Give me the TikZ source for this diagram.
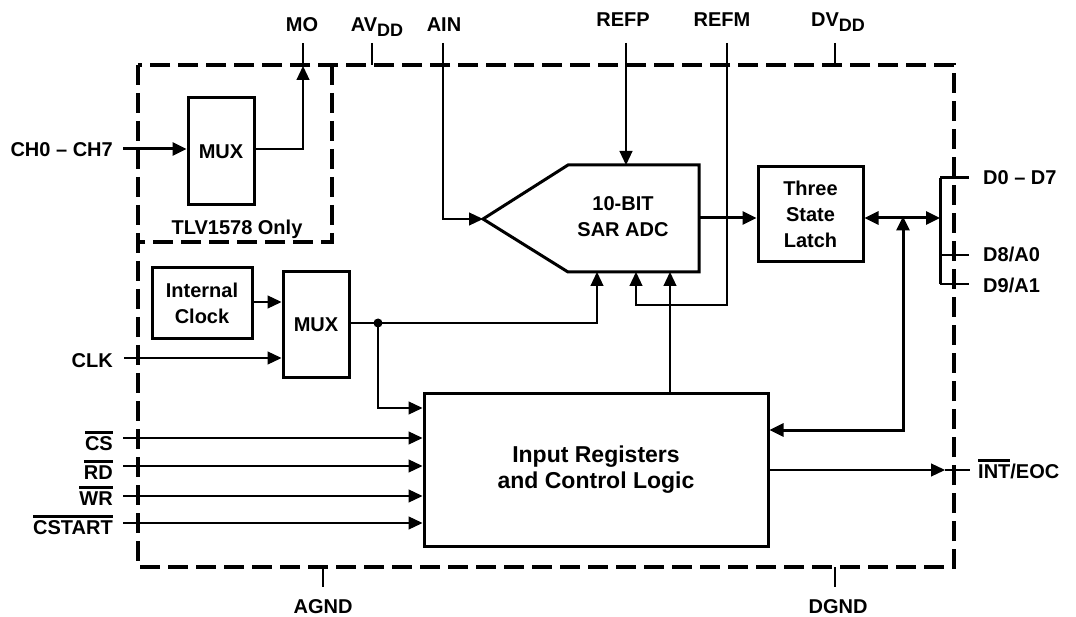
\documentclass[tikz,border=0pt]{standalone}
\usepackage{fontspec}
\setmainfont{Liberation Sans}
\usetikzlibrary{arrows.meta}
\newcommand\ovl[1]{\setbox0\hbox{#1}\rlap{\rule[\dimexpr\ht0+2.5pt\relax]{\wd0}{2.4pt}}\box0}
\newcommand\lowsub[1]{\raisebox{-5pt}{\fontsize{18}{18}\selectfont #1}}
\tikzset{
  x=1pt, y=-1pt,
  every node/.style={font=\fontsize{20}{26}\selectfont\bfseries, inner sep=0pt, text=black},
  blk/.style={draw, line width=3pt, align=center},
  thin/.style={line width=1.2pt},
  bus/.style={line width=3pt},
  dsh/.style={line width=3.2pt, dash pattern=on 20pt off 8pt},
  arr/.style={-{Triangle[length=14pt,width=13pt]}},
  darr/.style={{Triangle[length=14pt,width=13pt]}-{Triangle[length=14pt,width=13pt]}},
  lbl/.style={anchor=base east},
  rlbl/.style={anchor=base west},
  tlbl/.style={anchor=base}
}
\begin{document}
\begin{tikzpicture}
\useasboundingbox (0,0) rectangle (1076,617);
% dashed outlines
\draw[dsh] (138,65) rectangle (954,567);
\draw[dsh] (332,65) -- (332,242) -- (138,242);

% blocks
\node[blk, minimum width=66pt, minimum height=107pt] (mux1) at (221,151.5) {MUX};
\node[tlbl] (tlv) at (237,235) {TLV1578 Only};
\node[blk, minimum width=100pt, minimum height=71pt] (iclk) at (202,303.5) {Internal\\Clock};
\node[blk, minimum width=66pt, minimum height=106pt] (mux2) at (316,325) {MUX};
\node[blk, minimum width=105pt, minimum height=95pt] (latch) at (810.5,214.5) {Three\\State\\Latch};
\node[blk, minimum width=344pt, minimum height=153pt, font=\fontsize{23}{26}\selectfont\bfseries] (ctrl) at (596,470) {Input Registers\\and Control Logic};

% ADC shape
\coordinate (adcL) at (483,219);
\coordinate (adcTL) at (568,165);
\coordinate (adcTR) at (699,165);
\coordinate (adcBR) at (699,272);
\coordinate (adcBL) at (568,272);
\draw[line width=3pt, line join=miter] (adcL) -- (adcTL) -- (adcTR) -- (adcBR) -- (adcBL) -- cycle;
\node[align=center] (adc) at (623,217) {10-BIT\\SAR ADC};

% top labels
\node[tlbl] (mo) at (302,32) {MO};
\node[tlbl] (avdd) at (377,32) {AV\lowsub{DD}};
\node[tlbl] (ain) at (444,32) {AIN};
\node[tlbl] (refp) at (623,27) {REFP};
\node[tlbl] (refm) at (722,27) {REFM};
\node[tlbl] (dvdd) at (838,27) {DV\lowsub{DD}};

% left labels
\node[lbl] (ch) at (113,157) {CH0 -- CH7};
\node[lbl] (clk) at (113,368) {CLK};
\node[lbl] (cs) at (113,450) {\ovl{CS}};
\node[lbl] (rd) at (113,479) {\ovl{RD}};
\node[lbl] (wr) at (113,505) {\ovl{WR}};
\node[lbl] (cstart) at (113,534) {\ovl{CSTART}};

% right labels
\node[rlbl] (d07) at (983,185) {D0 -- D7};
\node[rlbl] (d8) at (983,262) {D8/A0};
\node[rlbl] (d9) at (983,293) {D9/A1};
\node[rlbl] (int) at (978,478) {\ovl{INT}/EOC};

% bottom labels
\node[tlbl] (agnd) at (323,613) {AGND};
\node[tlbl] (dgnd) at (838,613) {DGND};

% coordinates
\coordinate (chS) at (123,149);
\coordinate (moC) at (303,149);
\coordinate (moB) at (303,66);
\coordinate (moT) at (303,43);
\coordinate (avT) at (372,43);
\coordinate (avB) at (372,65);
\coordinate (ainT) at (443,43);
\coordinate (ainC) at (443,219);
\coordinate (refpT) at (626,43);
\coordinate (refpB) at (626,165);
\coordinate (refmT) at (727,43);
\coordinate (refmC1) at (727,305);
\coordinate (refmC2) at (636,305);
\coordinate (refmB) at (636,272);
\coordinate (dvT) at (835,43);
\coordinate (dvB) at (835,65);
\coordinate (dot) at (378,323);
\coordinate (clkC) at (597,323);
\coordinate (clkB) at (597,272);
\coordinate (dotD) at (378,408);
\coordinate (ctlT) at (670,272);
\coordinate (clkS) at (124,358);
\coordinate (csS) at (123,438);
\coordinate (rdS) at (123,466);
\coordinate (wrS) at (123,496);
\coordinate (cstS) at (123,523);
\coordinate (busT) at (903,218);
\coordinate (busC) at (903,430);
\coordinate (barL) at (940,218);
\coordinate (barT) at (940,178);
\coordinate (barB) at (940,284);
\coordinate (d07E) at (969,178);
\coordinate (d8L) at (940,255);
\coordinate (d8E) at (969,255);
\coordinate (d9E) at (969,284);
\coordinate (intA) at (945,470);
\coordinate (intE) at (970,470);
\coordinate (agT) at (323,567);
\coordinate (agB) at (323,587);
\coordinate (dgT) at (835,567);
\coordinate (dgB) at (835,587);

% TLV1578 section
\draw[bus, arr] (chS) -- (mux1.west |- chS);
\draw[thin, arr] (mux1.east |- moC) -- (moC) -- (moB);
\draw[thin] (moB) -- (moT);
\draw[thin] (avT) -- (avB);
\draw[thin, arr] (ainT) -- (ainC) -- (adcL);
\draw[thin, arr] (refpT) -- (refpB);
\draw[thin, arr] (refmT) -- (refmC1) -- (refmC2) -- (refmB);
\draw[thin] (dvT) -- (dvB);

% clock
\draw[thin, arr] (iclk.east |- 0,302) -- (mux2.west |- 0,302);
\draw[thin, arr] (clkS) -- (mux2.west |- clkS);
\draw[thin] (mux2.east |- dot) -- (dot);
\draw[thin, arr] (dot) -- (clkC) -- (clkB);
\draw[thin, arr] (dot) -- (dotD) -- (ctrl.west |- dotD);
\fill (dot) circle (4.5pt);

% control inputs
\draw[thin, arr] (csS) -- (ctrl.west |- csS);
\draw[thin, arr] (rdS) -- (ctrl.west |- rdS);
\draw[thin, arr] (wrS) -- (ctrl.west |- wrS);
\draw[thin, arr] (cstS) -- (ctrl.west |- cstS);
\draw[thin, arr] (ctrl.north -| ctlT) -- (ctlT);

% data path
\draw[bus, arr] (adcBR |- 0,218) -- (latch.west |- 0,218);
\draw[bus, darr] (latch.east |- 0,218) -- (barL);
\draw[bus, darr] (ctrl.east |- busC) -- (busC) -- ([yshift=1.5pt]busT);
\draw[bus] (barT) -- (barB);
\draw[bus] (barT) -- (d07E);
\draw[thin] (d8L) -- (d8E);
\draw[thin] (barB) -- (d9E);
\draw[thin, arr] (ctrl.east |- intA) -- (intA);
\draw[thin] (intA) -- (intE);

% grounds
\draw[thin] (agT) -- (agB);
\draw[thin] (dgT) -- (dgB);
\end{tikzpicture}
\end{document}
